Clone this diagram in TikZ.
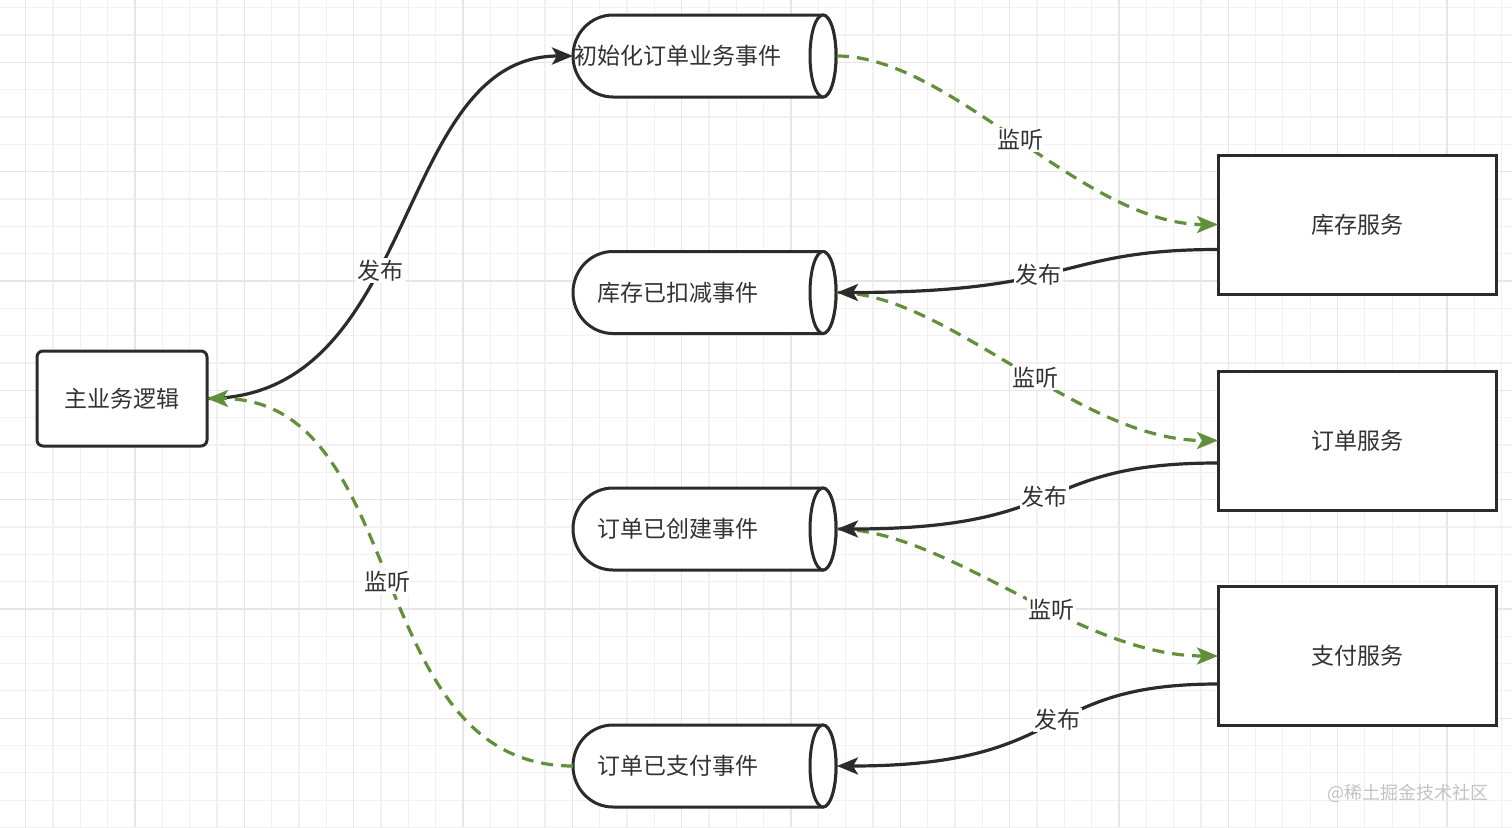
\documentclass[tikz,border=0pt]{standalone}
\usepackage{fontspec}
\newfontfamily\cjk{Noto Sans CJK SC}
\usetikzlibrary{arrows.meta}
\definecolor{lineblk}{HTML}{2B2B2B}
\definecolor{lgreen}{HTML}{618F3A}
\definecolor{txt}{HTML}{333333}
\definecolor{gridminor}{HTML}{F1F1F1}
\definecolor{gridmajor}{HTML}{E6E6E6}
\definecolor{wmgray}{HTML}{C2C2C2}
\newcommand{\evshape}[1]{%
  \draw[cylline] ([xshift=40pt]#1.north west) -- ([xshift=-14pt]#1.north east)
    arc[start angle=90,end angle=-90,x radius=13pt,y radius=41pt]
    -- ([xshift=40pt]#1.south west)
    arc[start angle=270,end angle=90,x radius=40pt,y radius=41pt] -- cycle;
  \draw[cylline] ([xshift=-14pt]#1.east) ellipse [x radius=13pt, y radius=41pt];
}
\begin{document}
\begin{tikzpicture}[x=1pt,y=-1pt,
  txtfont/.style={font=\cjk\fontsize{23pt}{27pt}\selectfont, text=txt},
  svcbox/.style={draw=lineblk, line width=3pt, fill=white, minimum width=278pt, minimum height=139pt, inner sep=0pt, outer sep=0pt, txtfont},
  mainbox/.style={draw=lineblk, line width=3pt, fill=white, rounded corners=6pt, minimum width=170pt, minimum height=95pt, inner sep=0pt, outer sep=0pt, txtfont},
  evbox/.style={draw=none, minimum width=264pt, minimum height=82pt, inner sep=0pt, outer sep=0pt},
  evtext/.style={inner sep=0pt, txtfont},
  cylline/.style={draw=lineblk, line width=3pt, fill=white},
  gminor/.style={draw=gridminor, line width=1.2pt},
  gmajor/.style={draw=gridmajor, line width=1.4pt},
  blk/.style={draw=lineblk, line width=3.2pt, -{Stealth[length=21pt,width=17pt,inset=5pt]}},
  grn/.style={draw=lgreen, line width=3.2pt, dash pattern=on 12pt off 8pt, -{Stealth[length=21pt,width=17pt,inset=5pt]}},
  lbl/.style={fill=white, inner sep=1.5pt, txtfont},
  wm/.style={font=\cjk\fontsize{18pt}{21pt}\selectfont, text=wmgray, inner sep=0pt}
]
\fill[white] (0,0) rectangle (1512,827);
\useasboundingbox (0,0) rectangle (1512,827);
% grid
\foreach \i in {0,...,55} \draw[gminor] ({-1.63+27.33*\i},0) -- ++(0,827);
\foreach \j in {0,...,30} \draw[gminor] (0,{7.64+27.33*\j}) -- ++(1512,0);
\foreach \i in {0,...,13} \draw[gmajor] ({25.7+109.32*\i},0) -- ++(0,827);
\foreach \j in {0,...,7} \draw[gmajor] (0,{-47+109.32*\j}) -- ++(1512,0);

% nodes
\node[mainbox] (main) at (122,398.5) {主业务逻辑};
\node[svcbox] (s1) at (1357,224.5) {库存服务};
\node[svcbox] (s2) at (1357,440.5) {订单服务};
\node[svcbox] (s3) at (1357,656) {支付服务};

\node[evbox] (e1) at (705,56) {};
\node[evbox] (e2) at (705,292.5) {};
\node[evbox] (e3) at (705,529) {};
\node[evbox] (e4) at (705,766) {};
\evshape{e1}
\evshape{e2}
\evshape{e3}
\evshape{e4}
\node[evtext] (t1) at (678,56) {初始化订单业务事件};
\node[evtext] (t2) at (678,292.5) {库存已扣减事件};
\node[evtext] (t3) at (678,529) {订单已创建事件};
\node[evtext] (t4) at (678,766) {订单已支付事件};

% connectors
\draw[blk] (main.east) .. controls +(213,0) and +(-180,0) .. node[lbl,pos=0.415] (l1) {发布} (e1.west);
\draw[grn] (e4.west) .. controls +(-212,0) and +(205,0) .. node[lbl,pos=0.5] (l8) {监听} (main.east);

\draw[grn] (e1.east) .. controls +(115,0) and +(-135,0) .. node[lbl,pos=0.5] (l2) {监听} (s1.west);
\draw[grn] (e2.east) .. controls +(110,0) and +(-140,0) .. node[lbl,pos=0.55] (l4) {监听} (s2.west);
\draw[grn] (e3.east) .. controls +(110,0) and +(-140,0) .. node[lbl,pos=0.59] (l6) {监听} (s3.west);

\draw[blk] ([yshift=-25pt]s1.west) .. controls +(-160,0) and +(238,0) .. node[lbl,pos=0.565] (l3) {发布} (e2.east);
\draw[blk] ([yshift=-22.5pt]s2.west) .. controls +(-186,0) and +(238,0) .. node[lbl,pos=0.51] (l5) {发布} (e3.east);
\draw[blk] ([yshift=-28pt]s3.west) .. controls +(-186,0) and +(238,0) .. node[lbl,pos=0.46] (l7) {发布} (e4.east);

% watermark
\node[wm] (wm) at (1408,793) {@稀土掘金技术社区};
\end{tikzpicture}
\end{document}
